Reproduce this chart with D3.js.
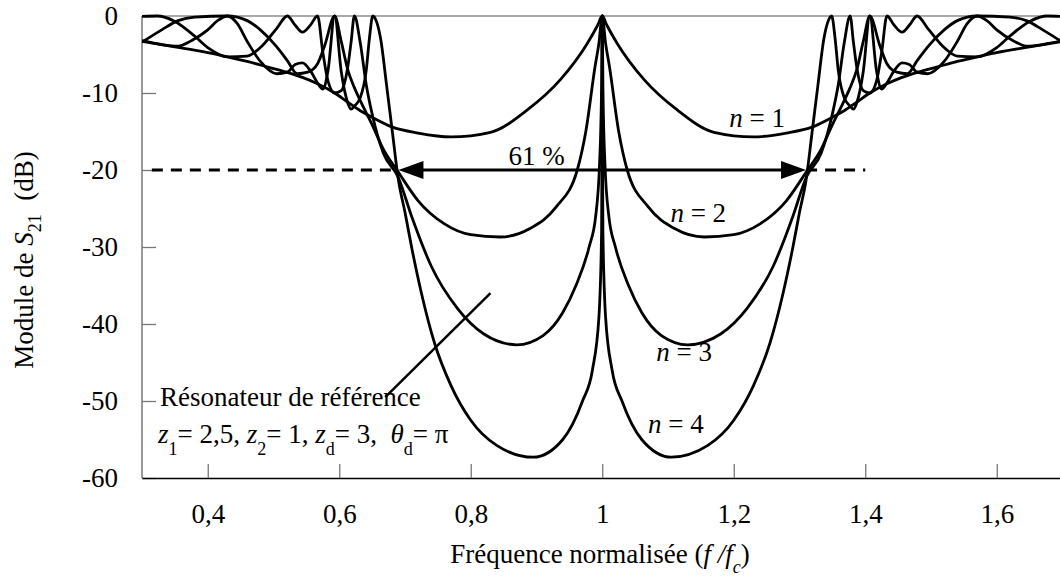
<!DOCTYPE html>
<html><head><meta charset="utf-8">
<script src="https://cdn.jsdelivr.net/npm/d3@7"></script>
<style>
body{margin:0;background:#fff}
svg{display:block}
text{font-family:"Liberation Serif","Times New Roman",serif;fill:#000}
</style>
</head><body>
<svg id="c" width="1060" height="580"></svg>
<script>
// ---------- data ----------
const xTicks = [0.4, 0.6, 0.8, 1.0, 1.2, 1.4, 1.6];
const xTickLabels = ["0,4", "0,6", "0,8", "1", "1,2", "1,4", "1,6"];
const yTicks = [0, -10, -20, -30, -40, -50, -60];
const yTickLabels = ["0", "-10", "-20", "-30", "-40", "-50", "-60"];
const seriesNames = ["1", "2", "3", "4"];

// |S21| (dB) vs normalised frequency f/fc: [f, dB]
const n1 = [[0.30,-3.3],[0.35,-4.0],[0.40,-4.75],[0.43,-5.3],[0.46,-5.9],[0.49,-6.6],[0.52,-7.3],[0.545,-8.0],[0.567,-8.8],[0.593,-10.0],[0.613,-11.2],[0.632,-12.3],[0.651,-13.2],[0.68,-14.4],[0.72,-15.2],[0.77,-15.7],[0.83,-15.1],[0.886,-12.2],[0.936,-8.3],[0.977,-3.6],[0.993,-1.2],[1.0,0],
  [1.007,-1.2],[1.023,-3.6],[1.064,-8.3],[1.114,-12.2],[1.17,-15.1],[1.23,-15.7],[1.28,-15.2],[1.32,-14.4],[1.349,-13.2],[1.368,-12.3],[1.387,-11.2],[1.407,-10.0],[1.433,-8.8],[1.455,-8.0],[1.48,-7.3],[1.51,-6.6],[1.54,-5.9],[1.57,-5.3],[1.60,-4.75],[1.65,-4.0],[1.70,-3.3]];
const n2 = [[0.30,-3.4],[0.33,-1.8],[0.355,-0.6],[0.38,-0.15],[0.43,0],[0.46,-0.6],[0.48,-1.8],[0.505,-4.0],[0.521,-5.8],[0.536,-7.5],[0.552,-7.3],[0.567,-6.2],[0.578,-3.8],[0.593,0],[0.603,-3.3],[0.613,-7.0],[0.623,-9.3],[0.632,-11],[0.651,-14.3],[0.667,-17.3],[0.69,-20.3],[0.72,-24],[0.76,-27],[0.80,-28.4],[0.845,-28.7],[0.89,-27.6],[0.93,-24.8],[0.962,-20],[0.975,-15],[0.989,-6.6],[0.995,-3.5],[1.0,0],
  [1.005,-3.5],[1.011,-6.6],[1.025,-15],[1.038,-20],[1.07,-24.8],[1.11,-27.6],[1.155,-28.7],[1.20,-28.4],[1.24,-27],[1.28,-24],[1.31,-20.3],[1.333,-17.3],[1.349,-14.3],[1.368,-11],[1.377,-9.3],[1.387,-7.0],[1.397,-3.3],[1.407,0],[1.422,-3.8],[1.433,-6.2],[1.448,-7.3],[1.464,-7.5],[1.479,-5.8],[1.495,-4.0],[1.52,-1.8],[1.54,-0.6],[1.57,0],[1.62,-0.15],[1.645,-0.6],[1.67,-1.8],[1.70,-3.4]];
const n3 = [[0.30,-0.05],[0.323,0],[0.35,-0.7],[0.38,-2.6],[0.40,-4.1],[0.43,-5.3],[0.46,-5.2],[0.48,-4.1],[0.505,-1.6],[0.521,0],[0.533,-1.2],[0.544,-2.1],[0.556,-1.2],[0.567,0],[0.575,-4.7],[0.583,-8.5],[0.593,-10],[0.603,-9.7],[0.613,-6.6],[0.618,-3.4],[0.623,0],[0.632,-3.5],[0.641,-8.9],[0.651,-13.1],[0.667,-17.8],[0.69,-21],[0.71,-26],[0.74,-32.5],[0.78,-38],[0.82,-41.3],[0.87,-42.7],[0.91,-41.5],[0.94,-38.5],[0.96,-35],[0.98,-30],[0.99,-26],[0.996,-19],[0.999,-9],[1.0,0],
  [1.001,-9],[1.004,-19],[1.01,-26],[1.02,-30],[1.04,-35],[1.06,-38.5],[1.09,-41.5],[1.13,-42.7],[1.18,-41.3],[1.22,-38],[1.26,-32.5],[1.29,-26],[1.31,-21],[1.333,-17.8],[1.349,-13.1],[1.359,-8.9],[1.368,-3.5],[1.377,0],[1.382,-3.4],[1.387,-6.6],[1.397,-9.7],[1.407,-10],[1.417,-8.5],[1.425,-4.7],[1.433,0],[1.444,-1.2],[1.456,-2.1],[1.467,-1.2],[1.479,0],[1.495,-1.6],[1.52,-4.1],[1.54,-5.2],[1.57,-5.3],[1.60,-4.1],[1.62,-2.6],[1.65,-0.7],[1.677,0],[1.70,-0.05]];
const n4 = [[0.30,-3.2],[0.33,-3.7],[0.355,-3.9],[0.375,-3.2],[0.40,-1.8],[0.415,-0.6],[0.43,0],[0.445,-1.0],[0.46,-3.3],[0.48,-5.9],[0.505,-7.5],[0.521,-7.3],[0.533,-6.3],[0.544,-6.1],[0.556,-7.1],[0.567,-8.7],[0.575,-9.5],[0.583,-7.05],[0.593,0],[0.603,-7.2],[0.613,-11.3],[0.618,-12.1],[0.623,-11.7],[0.632,-10.6],[0.641,-7.1],[0.646,-2.8],[0.651,0],[0.657,-0.8],[0.663,-3.0],[0.672,-9],[0.681,-15.2],[0.69,-21.3],[0.70,-25.5],[0.71,-30],[0.725,-36],[0.745,-42.5],[0.77,-48],[0.80,-52.5],[0.84,-55.8],[0.895,-57.3],[0.94,-55],[0.97,-50],[0.985,-46],[0.995,-39],[0.999,-28],[0.9998,-14],[1.0,0],
  [1.0002,-14],[1.001,-28],[1.005,-39],[1.015,-46],[1.03,-50],[1.06,-55],[1.105,-57.3],[1.16,-55.8],[1.20,-52.5],[1.23,-48],[1.255,-42.5],[1.275,-36],[1.29,-30],[1.30,-25.5],[1.31,-21.3],[1.319,-15.2],[1.328,-9],[1.337,-3.0],[1.343,-0.8],[1.349,0],[1.354,-2.8],[1.359,-7.1],[1.368,-10.6],[1.377,-11.7],[1.382,-12.1],[1.387,-11.3],[1.397,-7.2],[1.407,0],[1.417,-7.05],[1.425,-9.5],[1.433,-8.7],[1.444,-7.1],[1.456,-6.1],[1.467,-6.3],[1.479,-7.3],[1.495,-7.5],[1.52,-5.9],[1.54,-3.3],[1.555,-1.0],[1.57,0],[1.585,-0.6],[1.60,-1.8],[1.625,-3.2],[1.645,-3.9],[1.67,-3.7],[1.70,-3.2]];
const curves = [n1, n2, n3, n4];
// label anchors in data units [f, dB]
const labelPos = [[1.2355,-14.4],[1.146,-26.8],[1.1245,-44.8],[1.112,-54.2]];

// ---------- layout ----------
const svg = d3.select("#c");
const x = d3.scaleLinear().domain([0.3, 1.7]).range([142, 1062.5]);
const y = d3.scaleLinear().domain([-60, 0]).range([478, 16]);
const FS = 27;

svg.append("defs").append("clipPath").attr("id","clip")
  .append("rect").attr("x",x(0.3)).attr("y",0).attr("width",x(1.7)-x(0.3)).attr("height",500);

// frame
svg.append("line").attr("x1",x(0.3)).attr("x2",x(1.7)).attr("y1",y(0)).attr("y2",y(0))
  .attr("stroke","#555").attr("stroke-width",1.2);
svg.append("line").attr("x1",x(0.3)).attr("x2",x(0.3)).attr("y1",y(0)).attr("y2",y(-60))
  .attr("stroke","#777").attr("stroke-width",1.5);

// y axis
const yAxis = d3.axisLeft(y).tickValues(yTicks).tickSizeInner(-14).tickSizeOuter(0)
  .tickFormat((d,i)=>yTickLabels[i]).tickPadding(24);
const gy = svg.append("g").attr("transform",`translate(${x(0.3)},0)`).call(yAxis);
gy.select(".domain").remove();
gy.selectAll(".tick line").attr("stroke","#777").attr("stroke-width",1.3);
gy.selectAll(".tick text").attr("font-size",FS).attr("font-family","Liberation Serif").attr("dy","0.33em");

// x axis
const xAxis = d3.axisBottom(x).tickValues(xTicks).tickSizeInner(-14).tickSizeOuter(0)
  .tickFormat((d,i)=>xTickLabels[i]).tickPadding(26);
const gx = svg.append("g").attr("transform",`translate(0,${y(-60)})`).call(xAxis);
gx.select(".domain").attr("stroke","#000").attr("stroke-width",1.6);
gx.selectAll(".tick line").attr("stroke","#777").attr("stroke-width",1.3);
gx.selectAll(".tick text").attr("font-size",FS).attr("font-family","Liberation Serif");

// curves
const line = d3.line().x(d=>x(d[0])).y(d=>y(d[1])).curve(d3.curveMonotoneX);
const gc = svg.append("g").attr("clip-path","url(#clip)");
gc.selectAll("path.curve").data(curves).join("path").attr("class","curve")
  .attr("d",line).attr("fill","none").attr("stroke","#000").attr("stroke-width",2.8)
  .attr("stroke-linejoin","round");

// -20 dB dashed guide and arrow
const guide = [[0.315,0.69],[1.31,1.40]];
svg.selectAll("line.guide").data(guide).join("line").attr("class","guide")
  .attr("x1",d=>x(d[0])).attr("x2",d=>x(d[1])).attr("y1",y(-20)).attr("y2",y(-20))
  .attr("stroke","#000").attr("stroke-width",3).attr("stroke-dasharray","11,8");
svg.append("line").attr("x1",x(0.69)+20).attr("x2",x(1.31)-20).attr("y1",y(-20)).attr("y2",y(-20))
  .attr("stroke","#000").attr("stroke-width",3);
const ah = (tipF, dir) => {
  const tx = x(tipF), ty = y(-20);
  return `M${tx},${ty} L${tx+dir*25},${ty-9} L${tx+dir*25},${ty+9} Z`;
};
svg.append("path").attr("d",ah(0.69,1)).attr("fill","#000");
svg.append("path").attr("d",ah(1.31,-1)).attr("fill","#000");
svg.append("text").attr("x",x(0.90)).attr("y",y(-20)-5).attr("text-anchor","middle")
  .attr("font-size",FS).text("61 %");

// series labels
labelPos.forEach((p,i)=>{
  const t = svg.append("text").attr("x",x(p[0])).attr("y",y(p[1])).attr("text-anchor","middle").attr("font-size",FS);
  t.append("tspan").attr("font-style","italic").text("n");
  t.append("tspan").text(" = " + seriesNames[i]);
});

// annotation
svg.append("line").attr("x1",x(0.67)).attr("y1",y(-49.5)).attr("x2",x(0.83)).attr("y2",y(-36))
  .attr("stroke","#000").attr("stroke-width",2.5);
svg.append("text").attr("x",160).attr("y",406).attr("font-size",FS).text("Résonateur de référence");
const t2 = svg.append("text").attr("x",158).attr("y",443).attr("font-size",FS);
const parts = [["z","i"],["1","s"],["= 2,5, ","n"],["z","i"],["2","s"],["= 1, ","n"],["z","i"],["d","s"],["= 3,  ","n"],["θ","i"],["d","s"],["= π","n"]];
let prevSub = false;
parts.forEach(p=>{
  const ts = t2.append("tspan").text(p[0]);
  if (p[1]==="i") ts.attr("font-style","italic");
  if (p[1]==="s") { ts.attr("font-size",18).attr("dy",12); prevSub = true; }
  else if (prevSub) { ts.attr("dy",-12); prevSub = false; }
});
t2.style("white-space","pre");

// axis titles
const yt = svg.append("text").attr("transform","translate(33,260) rotate(-90)").attr("text-anchor","middle").attr("font-size",FS).style("white-space","pre");
yt.append("tspan").text("Module de ");
yt.append("tspan").attr("font-style","italic").text("S");
yt.append("tspan").attr("font-size",18).attr("dy",8).text("21");
yt.append("tspan").attr("dy",-8).text("  (dB)");

const xt = svg.append("text").attr("x",600).attr("y",563).attr("text-anchor","middle").attr("font-size",FS).style("white-space","pre");
xt.append("tspan").text("Fréquence normalisée (");
xt.append("tspan").attr("font-style","italic").text("f /f");
xt.append("tspan").attr("font-size",18).attr("dy",10).attr("font-style","italic").text("c");
xt.append("tspan").attr("dy",-10).text(")");
</script>
</body></html>
